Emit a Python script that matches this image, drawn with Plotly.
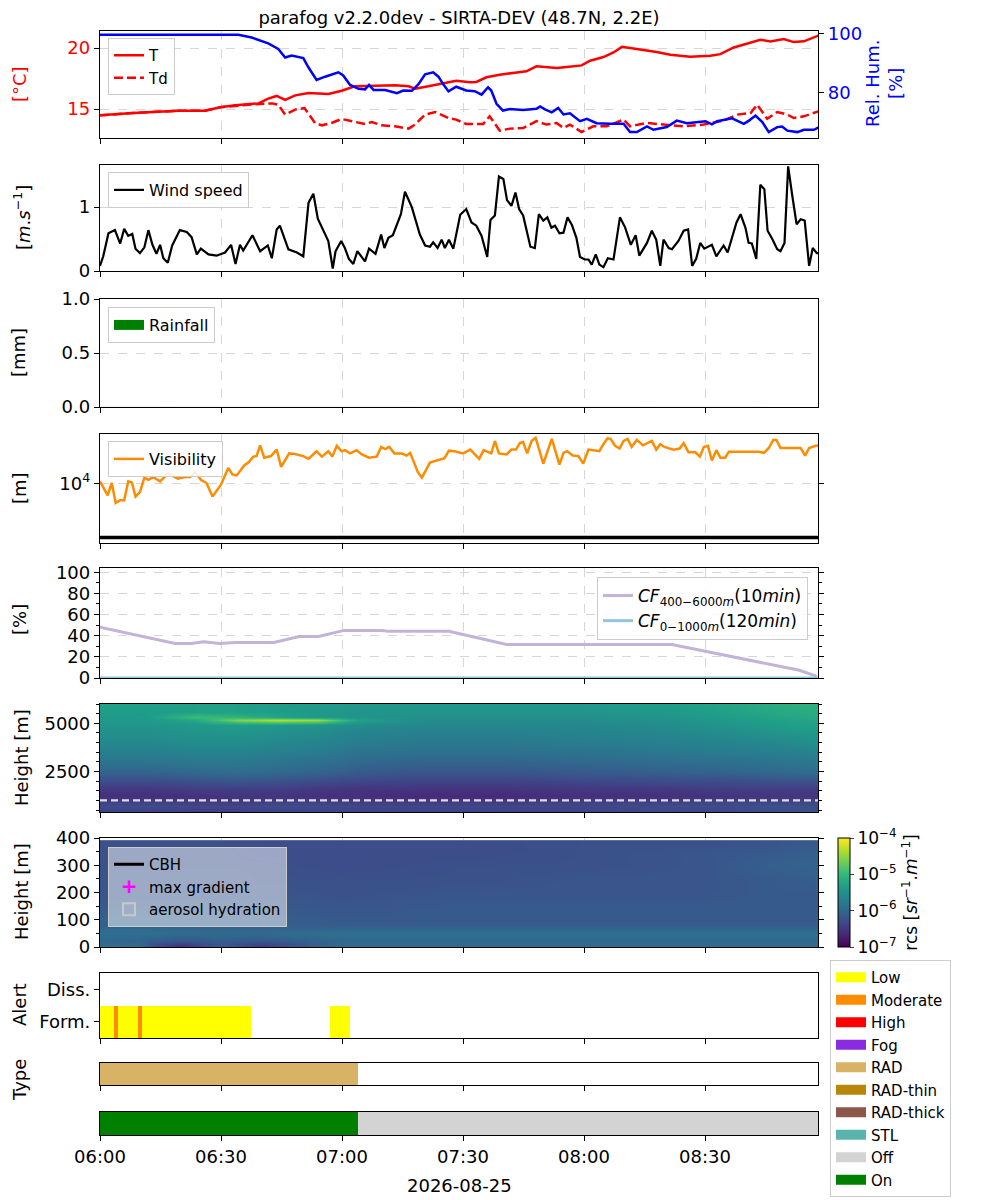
import numpy as np
import pandas as pd
import plotly.graph_objects as go

# ---------------- data ----------------
DAY_START = "2026-08-25 06:00"
END_MIN = 178  # minutes after start shown on the time axis

# temperature / dew point [degC] and relative humidity [%]
t_min = [0, 8.2, 19.4, 26.0, 29.8, 33.5, 39.3, 41.7, 43.8, 45.9,
         48.4, 51.7, 56.6, 59.9, 63.2, 68.2, 73.2, 76.5, 78.1, 81.4,
         85.5, 88.3, 91.7, 93.3, 95.8, 99.1, 103.3, 105.7, 108.2, 113.2,
         115.7, 119.4, 121.5, 124.8, 127.3, 129.4, 131.4, 134.7, 138.0, 141.4,
         146.3, 151.3, 153.8, 157.1, 160.4, 163.7, 166.2, 169.5, 172.0, 174.5,
         178.6]
t_val = [14.48, 14.67, 14.86, 14.86, 15.14, 15.30, 15.46, 15.85, 16.07, 15.74,
         16.12, 16.31, 16.23, 16.50, 16.86, 16.91, 16.94, 16.86, 16.67, 16.86,
         17.10, 17.32, 17.19, 17.22, 17.60, 17.81, 18.00, 18.09, 18.50, 18.36,
         18.44, 18.58, 18.96, 19.26, 19.64, 20.10, 20.00, 19.86, 19.67, 19.45,
         19.29, 19.37, 19.50, 20.05, 20.36, 20.68, 20.55, 20.74, 20.49, 20.55,
         21.09]

td_min = [0, 8.2, 19.4, 26.0, 29.8, 33.5, 36.9, 42.7, 44.2, 45.9,
          48.4, 50.7, 53.3, 55.0, 57.4, 59.9, 62.4, 65.7, 67.4, 69.8,
          73.1, 76.5, 78.1, 80.6, 83.1, 86.4, 88.3, 90.8, 95.0, 96.6,
          99.1, 101.6, 104.9, 108.2, 110.7, 113.2, 114.9, 116.5, 119.4, 122.3,
          125.6, 129.8, 131.4, 135.6, 139.7, 144.7, 149.7, 154.6, 158.0, 161.3,
          162.9, 165.4, 167.9, 170.4, 172.0, 174.5, 178.6]
td_val = [14.48, 14.67, 14.86, 14.86, 15.14, 15.28, 15.35, 15.46, 15.35, 14.54,
          14.95, 15.08, 13.85, 13.66, 13.85, 14.18, 14.00, 13.77, 13.93, 13.66,
          13.58, 13.39, 13.72, 14.54, 14.75, 14.26, 14.13, 13.77, 13.77, 14.40,
          13.22, 13.39, 13.44, 14.00, 13.72, 13.85, 13.44, 13.72, 13.11, 13.58,
          13.58, 14.13, 13.58, 13.85, 13.72, 13.58, 13.72, 14.05, 14.54, 14.67,
          15.36, 14.20, 14.75, 14.54, 14.26, 14.40, 14.86]

rh_min = [0, 20.0, 34.3, 37.6, 41.7, 44.2, 45.9, 47.5, 50.4, 51.7,
          53.7, 55.8, 59.1, 60.3, 62.0, 64.1, 65.7, 66.7, 67.8, 70.7,
          73.6, 75.2, 77.3, 78.9, 80.6, 82.6, 83.9, 85.1, 86.4, 88.3,
          90.8, 92.9, 94.6, 96.2, 97.0, 98.3, 99.9, 101.6, 104.9, 108.2,
          109.1, 110.3, 112.0, 113.6, 114.9, 116.5, 119.0, 120.7, 123.1, 126.5,
          129.8, 131.4, 133.1, 135.6, 137.2, 140.5, 143.0, 145.5, 148.0, 150.1,
          151.7, 153.0, 156.7, 159.6, 160.9, 162.5, 164.2, 165.8, 167.9, 169.1,
          170.4, 172.9, 174.5, 177.0, 178.6]
rh_val = [99.7, 99.8, 99.7, 98.8, 96.8, 94.9, 92.0, 92.7, 91.8, 88.6,
          84.4, 85.5, 87.0, 85.9, 82.7, 81.4, 81.2, 82.7, 81.0, 81.0,
          79.9, 80.8, 80.7, 82.9, 86.3, 87.0, 85.5, 82.9, 80.5, 82.1,
          80.8, 80.6, 79.4, 81.9, 80.8, 76.3, 74.0, 74.5, 74.2, 74.6,
          75.4, 74.4, 73.4, 74.9, 72.7, 73.1, 70.4, 71.2, 69.7, 69.5,
          69.5, 66.7, 66.7, 68.6, 67.5, 68.4, 70.6, 69.7, 70.1, 70.4,
          69.3, 70.4, 71.4, 69.5, 70.6, 72.3, 70.1, 66.7, 68.4, 68.6,
          67.2, 66.7, 67.5, 67.5, 68.6]

# wind speed [m/s]
wind_min = [0, 0.8, 2.1, 3.7, 5.0, 6.0, 7.0, 8.0, 8.8, 9.9,
            11.0, 12.0, 13.0, 14.0, 14.9, 15.7, 16.8, 17.9, 19.8, 21.5,
            22.7, 24.0, 25.0, 26.9, 28.9, 31.0, 32.5, 33.6, 34.7, 35.5,
            37.8, 39.7, 41.6, 42.6, 43.8, 44.6, 46.7, 48.8, 50.4, 51.7,
            52.9, 54.0, 56.6, 57.7, 58.4, 59.8, 60.7, 61.7, 62.8, 63.8,
            65.7, 66.7, 68.3, 69.7, 70.5, 71.5, 72.6, 74.6, 75.6, 77.3,
            79.3, 80.6, 81.8, 82.6, 83.7, 84.7, 85.5, 86.5, 87.6, 89.3,
            90.8, 92.1, 93.3, 94.6, 96.0, 96.8, 97.9, 98.9, 100.0, 100.9,
            102.0, 103.0, 103.9, 104.9, 106.7, 107.8, 108.8, 109.9, 110.9, 111.9,
            112.8, 113.9, 114.9, 115.9, 117.0, 118.1, 119.0, 120.2, 121.1, 121.9,
            122.9, 123.8, 124.8, 125.9, 127.3, 128.9, 130.2, 131.6, 132.8, 133.7,
            135.6, 136.8, 137.9, 138.9, 139.7, 141.0, 141.8, 143.4, 144.7, 145.8,
            146.8, 147.8, 148.8, 149.8, 151.7, 152.8, 154.6, 155.6, 157.8, 158.8,
            160.0, 160.8, 161.6, 162.7, 163.7, 164.7, 165.5, 166.6, 167.9, 168.7,
            169.7, 170.6, 171.6, 172.7, 173.7, 174.7, 175.8, 176.7, 177.7, 178.6]
wind_val = [0.08, 0.23, 0.59, 0.64, 0.43, 0.66, 0.55, 0.58, 0.35, 0.28,
            0.37, 0.64, 0.41, 0.27, 0.41, 0.20, 0.13, 0.40, 0.64, 0.61,
            0.53, 0.26, 0.35, 0.26, 0.24, 0.29, 0.41, 0.11, 0.41, 0.32,
            0.56, 0.31, 0.40, 0.20, 0.65, 0.71, 0.34, 0.29, 0.23, 1.07,
            1.21, 0.82, 0.47, 0.04, 0.31, 0.47, 0.36, 0.19, 0.11, 0.31,
            0.15, 0.35, 0.27, 0.57, 0.36, 0.52, 0.56, 0.89, 1.24, 1.00,
            0.57, 0.40, 0.38, 0.45, 0.36, 0.49, 0.36, 0.49, 0.35, 0.88,
            0.97, 0.76, 0.71, 0.55, 0.22, 0.80, 0.87, 1.48, 1.44, 1.11,
            1.02, 1.23, 0.97, 0.87, 0.38, 0.36, 0.89, 0.79, 0.84, 0.68,
            0.71, 0.59, 0.60, 0.84, 0.72, 0.52, 0.22, 0.18, 0.18, 0.10,
            0.26, 0.10, 0.06, 0.20, 0.18, 0.84, 0.68, 0.41, 0.56, 0.24,
            0.44, 0.63, 0.49, 0.08, 0.49, 0.36, 0.34, 0.47, 0.63, 0.65,
            0.08, 0.19, 0.44, 0.35, 0.41, 0.23, 0.40, 0.29, 0.76, 0.89,
            0.68, 0.44, 0.43, 0.19, 1.35, 1.28, 0.63, 0.51, 0.34, 0.31,
            0.44, 1.64, 1.19, 0.73, 0.81, 0.79, 0.08, 0.36, 0.28, 0.28]

# rainfall [mm]
rain_min = [0, 30, 60, 90, 120, 150]
rain_mm = [0, 0, 0, 0, 0, 0]

# visibility [m]
vis_min = [0, 1.1, 1.9, 2.9, 3.9, 5.0, 6.0, 7.0, 7.9, 8.8,
           9.9, 11.0, 12.0, 13.2, 14.9, 16.9, 19.3, 21.1, 22.3, 23.7,
           25.0, 26.4, 27.9, 30.0, 31.8, 32.8, 33.9, 35.8, 36.9, 38.0,
           38.8, 39.7, 40.7, 42.4, 43.8, 44.9, 46.9, 48.3, 50.4, 51.7,
           53.7, 55.0, 56.6, 57.6, 58.7, 59.9, 60.7, 62.0, 63.6, 64.9,
           66.7, 68.6, 69.7, 70.7, 71.7, 73.0, 74.8, 76.0, 76.9, 78.8,
           79.8, 81.8, 83.1, 84.3, 85.4, 86.5, 87.9, 90.0, 91.8, 94.0,
           95.1, 97.0, 97.9, 98.9, 100.8, 102.0, 103.1, 104.1, 104.9, 105.9,
           107.0, 108.0, 109.9, 112.0, 113.9, 114.9, 115.8, 117.2, 118.6, 119.8,
           121.1, 122.3, 123.8, 124.8, 125.8, 126.6, 127.7, 128.8, 129.8, 130.8,
           131.8, 133.1, 134.6, 136.8, 137.9, 138.9, 139.9, 142.2, 143.7, 144.7,
           145.9, 147.6, 148.7, 149.7, 150.7, 151.7, 152.8, 153.8, 155.0, 155.9,
           163.3, 164.6, 165.8, 166.9, 167.7, 168.7, 173.7, 174.8, 175.8, 177.4,
           178.6]
vis_m = [10960, 7940, 6030, 10230, 4370, 4900, 4900, 10960, 10470, 5750,
         6920, 12880, 11750, 13180, 10960, 15490, 12300, 13180, 13180, 16220,
         11750, 10230, 5750, 9550, 19500, 14790, 14130, 21880, 25120, 31620,
         32360, 51290, 30200, 32360, 42660, 20420, 36310, 35480, 32360, 28840,
         39810, 31620, 39810, 31620, 50120, 39810, 41690, 36310, 41690, 34670,
         30200, 31620, 47860, 43650, 47860, 36310, 36310, 33110, 37150, 16220,
         12880, 24550, 26300, 28180, 29510, 40740, 39810, 36310, 42660, 28840,
         41690, 36310, 61660, 36310, 34670, 42660, 42660, 56230, 58880, 36310,
         61660, 70790, 23440, 67610, 22390, 37150, 39810, 33110, 32360, 23440,
         42660, 41690, 39810, 53700, 69180, 67610, 50120, 44670, 61660, 67610,
         47860, 64570, 51290, 61660, 42660, 53700, 47860, 42660, 44670, 56230,
         38020, 38020, 31620, 47860, 50120, 26920, 41690, 30200, 30200, 38900,
         38900, 37150, 45710, 64570, 64570, 45710, 45710, 33110, 45710, 50120,
         51290]
fog_vis_threshold = 1000

# cloud fraction [%]
cf_hi_min = [0, 18.6, 22.6, 25.7, 29.7, 33.6, 43.1, 49.4, 54.2, 60.5,
             70.0, 71.5, 86.5, 100.8, 141.8, 145.0, 167.9, 173.4, 177.7]
cf_hi_val = [47.9, 32.6, 32.6, 34.2, 32.6, 33.5, 33.5, 39.3, 39.3, 45.0,
             45.0, 44.1, 44.1, 31.6, 31.6, 29.1, 11.2, 7.3, 1.5]
cf_lo_min = [0, 178]
cf_lo_val = [0, 0]

# lidar range corrected signal, log10 [sr-1 m-1]
hi_times = [0, 12, 24, 34, 44, 54, 64, 80, 100, 120, 140, 155, 168, 178]
hi_heights = [450, 700, 950, 1250, 1600, 2000, 2500, 3000, 3500, 4000,
              4500, 4900, 5150, 5350, 5600, 5950]
hi_log_rcs = [
    [-6.40, -6.40, -6.45, -6.45, -6.40, -6.40, -6.40, -6.40, -6.40, -6.40, -6.35, -6.35, -6.30, -6.30],
    [-6.30, -6.30, -6.35, -6.35, -6.30, -6.30, -6.35, -6.35, -6.35, -6.35, -6.30, -6.30, -6.25, -6.25],
    [-6.45, -6.45, -6.50, -6.50, -6.45, -6.45, -6.50, -6.50, -6.50, -6.45, -6.45, -6.40, -6.40, -6.40],
    [-6.60, -6.60, -6.60, -6.55, -6.55, -6.60, -6.60, -6.65, -6.65, -6.60, -6.60, -6.55, -6.55, -6.55],
    [-6.50, -6.50, -6.45, -6.45, -6.45, -6.50, -6.55, -6.55, -6.55, -6.50, -6.50, -6.45, -6.45, -6.45],
    [-6.30, -6.30, -6.25, -6.20, -6.25, -6.30, -6.35, -6.40, -6.40, -6.35, -6.30, -6.30, -6.25, -6.25],
    [-6.05, -6.05, -6.00, -5.95, -6.00, -6.05, -6.15, -6.20, -6.20, -6.15, -6.10, -6.05, -6.00, -5.95],
    [-5.85, -5.85, -5.80, -5.80, -5.85, -5.90, -6.00, -6.05, -6.05, -6.00, -5.95, -5.90, -5.85, -5.80],
    [-5.70, -5.70, -5.65, -5.65, -5.70, -5.75, -5.85, -5.90, -5.90, -5.85, -5.80, -5.75, -5.70, -5.65],
    [-5.60, -5.60, -5.55, -5.55, -5.60, -5.65, -5.75, -5.80, -5.80, -5.75, -5.70, -5.65, -5.60, -5.50],
    [-5.50, -5.50, -5.45, -5.45, -5.50, -5.55, -5.65, -5.70, -5.70, -5.65, -5.60, -5.55, -5.45, -5.40],
    [-5.45, -5.45, -5.40, -5.35, -5.40, -5.45, -5.55, -5.60, -5.60, -5.60, -5.55, -5.45, -5.35, -5.30],
    [-5.40, -5.40, -5.20, -4.60, -4.35, -4.45, -5.30, -5.55, -5.55, -5.55, -5.50, -5.40, -5.30, -5.25],
    [-5.40, -5.35, -4.95, -5.05, -5.25, -5.40, -5.45, -5.50, -5.50, -5.50, -5.45, -5.35, -5.25, -5.20],
    [-5.35, -5.35, -5.30, -5.30, -5.35, -5.40, -5.45, -5.45, -5.45, -5.45, -5.40, -5.30, -5.20, -5.15],
    [-5.30, -5.30, -5.30, -5.30, -5.35, -5.35, -5.40, -5.40, -5.40, -5.40, -5.35, -5.25, -5.15, -5.10],
]
cf_lo_top_m = 1000

lo_times = [0, 10, 13, 20, 30, 40, 60, 90, 120, 150, 165, 178]
lo_heights = [5, 25, 50, 75, 100, 150, 200, 250, 300, 350, 378]
lo_log_rcs = [
    [-5.90, -5.95, -6.25, -6.55, -6.15, -6.45, -5.95, -5.95, -5.95, -5.95, -5.95, -5.95],
    [-6.00, -6.05, -6.10, -6.15, -6.10, -6.15, -6.00, -6.00, -6.00, -6.00, -6.00, -6.00],
    [-5.90, -5.90, -5.90, -5.95, -5.95, -5.95, -5.90, -5.90, -5.90, -5.90, -5.90, -5.90],
    [-6.05, -6.05, -6.05, -6.05, -6.10, -6.10, -6.10, -6.10, -6.10, -6.10, -6.10, -6.10],
    [-6.05, -6.05, -6.05, -6.10, -6.10, -6.10, -6.15, -6.15, -6.15, -6.15, -6.15, -6.15],
    [-6.15, -6.15, -6.15, -6.15, -6.15, -6.15, -6.20, -6.15, -6.15, -6.15, -6.15, -6.15],
    [-6.20, -6.20, -6.20, -6.20, -6.20, -6.20, -6.25, -6.20, -6.20, -6.20, -6.15, -6.15],
    [-6.20, -6.20, -6.20, -6.20, -6.20, -6.25, -6.25, -6.25, -6.20, -6.20, -6.15, -6.10],
    [-6.25, -6.25, -6.25, -6.25, -6.25, -6.25, -6.30, -6.25, -6.25, -6.20, -6.10, -6.05],
    [-6.25, -6.25, -6.25, -6.25, -6.25, -6.30, -6.30, -6.30, -6.25, -6.20, -6.15, -6.10],
    [-6.25, -6.25, -6.25, -6.25, -6.25, -6.30, -6.30, -6.30, -6.25, -6.25, -6.20, -6.15],
]

# alert / fog type / instrument state segments (minutes after start)
alert_start = [0, 3.5, 4.5, 9.5, 10.5, 57.0]
alert_end = [3.5, 4.5, 9.5, 10.5, 37.5, 62.0]
alert_level = ["Low", "Moderate", "Low", "Moderate", "Low", "Low"]

type_start = [0]
type_end = [64.0]
type_label = ["RAD"]

state_start = [0, 64.0]
state_end = [64.0, 178.0]
state_label = ["On", "Off"]

legend_labels = ["Low", "Moderate", "High", "Fog", "RAD", "RAD-thin",
                 "RAD-thick", "STL", "Off", "On"]
legend_colors = ["#ffff00", "#ff8c00", "#ff0000", "#8a2be2", "#d8b365", "#b8860b",
                 "#8c564b", "#5ab4ac", "#d3d3d3", "#008000"]

# ---------------- helpers ----------------
T0 = pd.Timestamp(DAY_START)


def tt(mins):
    return [T0 + pd.Timedelta(minutes=float(m)) for m in mins]


COLORS = dict(zip(legend_labels, legend_colors))
FONT = "DejaVu Sans"

fig = go.Figure()

# panel 1: T, Td, RH
fig.add_trace(go.Scatter(x=tt(td_min), y=td_val, mode="lines", name="Td",
                         line=dict(color="red", width=2.5, dash="9px,4px"),
                         xaxis="x", yaxis="y", legend="legend", legendrank=2))
fig.add_trace(go.Scatter(x=tt(t_min), y=t_val, mode="lines", name="T",
                         line=dict(color="red", width=2.5),
                         xaxis="x", yaxis="y", legend="legend", legendrank=1))
fig.add_trace(go.Scatter(x=tt(rh_min), y=rh_val, mode="lines", name="RH",
                         line=dict(color="blue", width=2.5),
                         xaxis="x", yaxis="y11", showlegend=False))

# panel 2: wind
fig.add_trace(go.Scatter(x=tt(wind_min), y=wind_val, mode="lines", name="Wind speed",
                         line=dict(color="black", width=2.2),
                         xaxis="x2", yaxis="y2", legend="legend2"))

# panel 3: rain
fig.add_trace(go.Bar(x=tt(rain_min), y=rain_mm, marker=dict(color="green"),
                     xaxis="x3", yaxis="y3", showlegend=False))
fig.add_trace(go.Scatter(x=[None], y=[None], mode="lines", name="Rainfall",
                         line=dict(color="green", width=10),
                         xaxis="x3", yaxis="y3", legend="legend3"))

# panel 4: visibility
fig.add_trace(go.Scatter(x=tt(vis_min), y=vis_m, mode="lines", name="Visibility",
                         line=dict(color="#ff8c00", width=2.5),
                         xaxis="x4", yaxis="y4", legend="legend4"))
fig.add_trace(go.Scatter(x=tt([0, END_MIN]), y=[fog_vis_threshold, fog_vis_threshold],
                         mode="lines", line=dict(color="black", width=3.5),
                         xaxis="x4", yaxis="y4", showlegend=False))

# panel 5: cloud fraction
fig.add_trace(go.Scatter(x=tt(cf_hi_min), y=cf_hi_val, mode="lines",
                         name="<i>CF</i><sub>400−6000<i>m</i></sub>(10<i>min</i>)",
                         line=dict(color="#c2b3d9", width=3),
                         xaxis="x5", yaxis="y5", legend="legend5"))
fig.add_trace(go.Scatter(x=tt(cf_lo_min), y=cf_lo_val, mode="lines",
                         name="<i>CF</i><sub>0−1000<i>m</i></sub>(120<i>min</i>)",
                         line=dict(color="#92c5de", width=3),
                         xaxis="x5", yaxis="y5", legend="legend5"))

# panel 6: lidar 400-6000 m
fig.add_trace(go.Heatmap(x=tt(hi_times), y=hi_heights, z=hi_log_rcs, coloraxis="coloraxis",
                         zsmooth="best", xaxis="x6", yaxis="y6", hoverinfo="skip"))
fig.add_trace(go.Scatter(x=tt([0, END_MIN]), y=[cf_lo_top_m, cf_lo_top_m], mode="lines",
                         line=dict(color="#dddddd", width=2.2, dash="7px,4px"),
                         xaxis="x6", yaxis="y6", showlegend=False))

# panel 7: lidar 0-400 m
fig.add_trace(go.Heatmap(x=tt(lo_times), y=lo_heights, z=lo_log_rcs, coloraxis="coloraxis",
                         zsmooth="best", xaxis="x7", yaxis="y7", hoverinfo="skip"))
fig.add_trace(go.Scatter(x=[None], y=[None], mode="lines", name="CBH",
                         line=dict(color="black", width=3),
                         xaxis="x7", yaxis="y7", legend="legend6"))
fig.add_trace(go.Scatter(x=[None], y=[None], mode="markers", name="max gradient",
                         marker=dict(symbol="cross-thin", size=9,
                                     line=dict(color="magenta", width=2.5)),
                         xaxis="x7", yaxis="y7", legend="legend6"))
fig.add_trace(go.Bar(x=[None], y=[None], name="aerosol hydration",
                     marker=dict(color="rgba(170,180,210,0.25)",
                                 line=dict(color="#c8c8c8", width=2)),
                     xaxis="x7", yaxis="y7", legend="legend6"))


# panels 8-10: segments as bars
def add_segments(starts, ends, labels, xa, ya, base, height):
    for s, e, lab in zip(starts, ends, labels):
        fig.add_trace(go.Bar(x=tt([(s + e) / 2]), y=[height], base=[base],
                             width=[(e - s) * 60000],
                             marker=dict(color=COLORS[lab], line=dict(width=0)),
                             xaxis=xa, yaxis=ya, showlegend=False, hoverinfo="skip"))


add_segments(alert_start, alert_end, alert_level, "x8", "y8", -0.5, 1)
add_segments(type_start, type_end, type_label, "x9", "y9", 0, 1)
add_segments(state_start, state_end, state_label, "x10", "y10", 0, 1)

for lab, col in zip(legend_labels, legend_colors):
    fig.add_trace(go.Scatter(x=[None], y=[None], mode="lines", name=lab,
                             line=dict(color=col, width=10),
                             xaxis="x8", yaxis="y8", legend="legend7"))

# ---------------- layout ----------------
# the page body adds an 8 px offset; positions below are given in reference pixels
OFF = 8
W, H = 1000 - OFF, 1200 - OFF
PW, PH = 718, 1104
ML, MT = 100 - OFF, 31 - OFF
MR = W - ML - PW
MB = H - MT - PH


def py(p):  # reference pixel row -> paper y
    return (1135 - p) / PH


def px(p):  # reference pixel column -> paper x
    return (p - 100) / PW


panels = [(31, 138), (165, 271), (299, 407), (434, 543), (568, 678),
          (704, 812), (838, 947), (973, 1038), (1063, 1085), (1112, 1135)]

x_range = [T0, T0 + pd.Timedelta(minutes=END_MIN)]
GRID = "#d6d6d6"
layout = dict(
    width=W, height=H,
    margin=dict(l=ML, r=MR, t=MT, b=MB, autoexpand=False),
    paper_bgcolor="white", plot_bgcolor="white",
    font=dict(family=FONT, size=18, color="black"),
    barmode="overlay", bargap=0,
    title=dict(text="parafog v2.2.0dev - SIRTA-DEV (48.7N, 2.2E)", x=0.5, xref="paper",
               y=1, yref="container", yanchor="top", xanchor="center",
               pad=dict(t=3), font=dict(size=18)),
    coloraxis=dict(
        colorscale="Viridis", cmin=-7, cmax=-4,
        colorbar=dict(thickness=12, thicknessmode="pixels", len=109, lenmode="pixels",
                      x=px(838), xanchor="left", xpad=0, ypad=0,
                      y=py(892.5), yanchor="middle",
                      tickvals=[-7, -6, -5, -4],
                      ticktext=["10<sup>−7</sup>", "10<sup>−6</sup>", "10<sup>−5</sup>", "10<sup>−4</sup>"],
                      ticks="outside", ticklen=4, tickfont=dict(size=17),
                      outlinewidth=1, outlinecolor="black",
                      title=dict(text="rcs [<i>sr</i><sup>−1</sup>.<i>m</i><sup>−1</sup>]",
                                 side="right", font=dict(size=17)))),
)

for i, (top, bot) in enumerate(panels, start=1):
    key = "xaxis" if i == 1 else f"xaxis{i}"
    ax = dict(type="date", range=x_range, domain=[0, 1], anchor="y" if i == 1 else f"y{i}",
              showgrid=i <= 7, gridcolor=GRID, griddash="dash", gridwidth=1,
              showline=True, linecolor="black", linewidth=1.3, mirror=True,
              ticks="outside", ticklen=5, tickcolor="black", tickwidth=1.2,
              tick0=T0, dtick=1800000, tickformat="%H:%M",
              showticklabels=(i == 10), tickfont=dict(size=18), zeroline=False)
    if i > 1:
        ax["matches"] = "x"
    layout[key] = ax

    ykey = "yaxis" if i == 1 else f"yaxis{i}"
    layout[ykey] = dict(domain=[py(bot), py(top)], anchor="x" if i == 1 else f"x{i}",
                        showgrid=True, gridcolor=GRID, griddash="dash", gridwidth=1,
                        showline=True, linecolor="black", linewidth=1.3, mirror=True,
                        ticks="outside", ticklen=5, tickcolor="black", tickwidth=1.2,
                        zeroline=False, tickfont=dict(size=18))

layout["yaxis"].update(range=[12.62, 21.4], tickvals=[15, 20], tickfont=dict(color="red", size=18),
                       mirror=False)
layout["yaxis11"] = dict(overlaying="y", side="right", anchor="x", range=[64.7, 101],
                         tickvals=[80, 100], tickfont=dict(color="blue", size=18),
                         showgrid=False, showline=True, linecolor="black", linewidth=1.3,
                         ticks="outside", ticklen=5, tickcolor="black", zeroline=False)
layout["yaxis2"].update(range=[0, 1.66], tickvals=[0, 1], mirror=True)
layout["yaxis3"].update(range=[0, 1], tickvals=[0, 0.5, 1], ticktext=["0.0", "0.5", "1.0"])
layout["yaxis4"].update(type="log", range=[2.896, 4.92], tickvals=[10000],
                        ticktext=["10<sup>4</sup>"], mirror="ticks")
layout["yaxis5"].update(range=[0, 104], tick0=0, dtick=20, mirror="ticks",
                        minor=dict(dtick=10, ticks="outside", ticklen=3, showgrid=False))
layout["yaxis6"].update(range=[400, 6000], tick0=0, dtick=2500, mirror="ticks",
                        minor=dict(dtick=500, ticks="outside", ticklen=3, showgrid=False))
layout["yaxis7"].update(range=[0, 400], tick0=0, dtick=100, mirror="ticks",
                        minor=dict(dtick=50, ticks="outside", ticklen=3, showgrid=False))
layout["yaxis8"].update(range=[-0.5, 1.5], tickvals=[0, 1], ticktext=["Form.", "Diss."],
                        showgrid=False)
for k in ("yaxis9", "yaxis10"):
    layout[k].update(range=[0, 1], showticklabels=False, ticks="", showgrid=False)

leg_common = dict(bgcolor="rgba(255,255,255,0.85)", bordercolor="#cccccc", borderwidth=1,
                  font=dict(size=16), xanchor="left", yanchor="top", tracegroupgap=0)
layout["legend"] = dict(leg_common, x=px(108), y=py(38), font=dict(size=15))
layout["legend2"] = dict(leg_common, x=px(108), y=py(172))
layout["legend3"] = dict(leg_common, x=px(108), y=py(307))
layout["legend4"] = dict(leg_common, x=px(108), y=py(441))
layout["legend5"] = dict(leg_common, x=px(808), xanchor="right", y=py(577), font=dict(size=17))
layout["legend6"] = dict(leg_common, x=px(108), y=py(847), bgcolor="rgba(255,255,255,0.5)",
                         font=dict(size=15))
layout["legend7"] = dict(leg_common, x=px(830), y=py(960), font=dict(size=15))

ann = []


def ylab(text, xpix, ypix, color="black"):
    ann.append(dict(text=text, x=px(xpix), y=py(ypix), xref="paper", yref="paper",
                    textangle=-90, showarrow=False, xanchor="center", yanchor="middle",
                    font=dict(size=18, color=color)))


ylab("[°C]", 19, 84, "red")
ylab("Rel. Hum.<br>[%]", 884, 84, "blue")
ylab("[<i>m</i>.<i>s</i><sup>−1</sup>]", 22, 218)
ylab("[mm]", 19, 353)
ylab("[m]", 19, 488)
ylab("[%]", 19, 620)
ylab("Height [m]", 21, 758)
ylab("Height [m]", 21, 892)
ylab("Alert", 19, 1005)
ylab("Type", 19, 1080)
ann.append(dict(text="2026-08-25", x=0.5, y=py(1185), xref="paper", yref="paper",
                showarrow=False, xanchor="center", yanchor="middle", font=dict(size=18)))
layout["annotations"] = ann

fig.update_layout(**layout)
fig.write_html("out.html")
